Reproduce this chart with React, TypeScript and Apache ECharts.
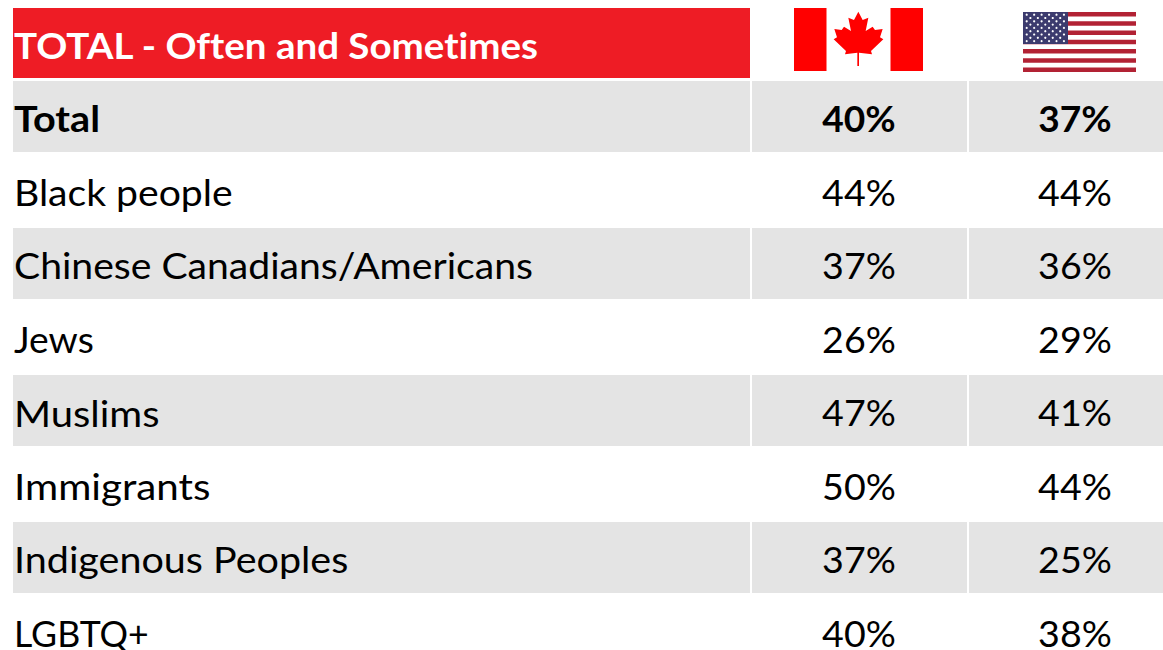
import React, { useEffect, useRef } from "react";
import * as echarts from "echarts";

const title = "TOTAL - Often and Sometimes";
const categories = ["Total", "Black people", "Chinese Canadians/Americans", "Jews", "Muslims", "Immigrants", "Indigenous Peoples", "LGBTQ+"];
const canada = [40, 44, 37, 26, 47, 50, 37, 40];
const usa = [37, 44, 36, 29, 41, 44, 25, 38];

const FONT = "Lato";
const RED = "#EE1C25";
const GREY = "#E4E4E4";
const labelStretch = [1.1, 1.087, 1.087, 1.035, 1.11, 1.12, 1.097, 0.99];
const leaf = [[100,20],[113,45],[130,38],[122,78],[143,65],[150,75],[173,72],[165,97],[175,103],[138,138],[141,148],[102,143],[102,183],[97,183],[97,143],[60,148],[63,138],[26,103],[36,97],[28,72],[50,75],[57,65],[78,78],[70,38],[87,45]];

function usFlag() {
  const x = 1023, y = 12, w = 113, h = 60;
  const els: any[] = [{ type: "rect", shape: { x, y, width: w, height: h }, style: { fill: "#fff" } }];
  const sh = h / 13;
  for (let i = 0; i < 13; i += 2) {
    els.push({ type: "rect", shape: { x, y: y + i * sh, width: w, height: sh }, style: { fill: "#B22234" } });
  }
  els.push({ type: "rect", shape: { x, y, width: 45, height: 32 }, style: { fill: "#3C3B6E" } });
  for (let r = 0; r < 9; r++) {
    const n = r % 2 === 0 ? 6 : 5;
    for (let c = 0; c < n; c++) {
      els.push({ type: "circle", shape: { cx: x + 3.7 + (r % 2 === 0 ? 0 : 3.7) + c * 7.45, cy: y + 2.7 + r * 3.3, r: 1.1 }, style: { fill: "#fff" } });
    }
  }
  return els;
}

function caFlag() {
  return [
    { type: "rect", shape: { x: 794, y: 8, width: 32.5, height: 63 }, style: { fill: "#FF0000" } },
    { type: "rect", shape: { x: 890.5, y: 8, width: 32.5, height: 63 }, style: { fill: "#FF0000" } },
    { type: "polygon", shape: { points: leaf.map(([a, b]) => [a / 3 + 825, b / 3 + 5]) }, style: { fill: "#FF0000" } },
  ];
}

export default function App() {
  const ref = useRef<HTMLDivElement>(null);
  useEffect(() => {
    document.body.style.margin = "0";
    const chart = echarts.init(ref.current!, null, { renderer: "svg" });
    const cols = [[13, 750], [752, 967], [969, 1163]];
    chart.setOption({
      animation: false,
      backgroundColor: "#fff",
      grid: { left: 0, right: 0, top: 79.75, height: 588, outerBoundsMode: "none" },
      xAxis: { type: "value", min: 0, max: 1163, show: false },
      yAxis: { type: "category", data: categories, inverse: true, show: false },
      graphic: [
        { type: "rect", shape: { x: 13, y: 8, width: 737, height: 70 }, style: { fill: RED } },
        { type: "text", x: 14, y: 45, scaleX: 1.07, style: { text: title, fill: "#fff", font: `bold 36px ${FONT}`, textVerticalAlign: "middle" } },
        ...caFlag(),
        ...usFlag(),
      ],
      series: [
        {
          type: "custom",
          coordinateSystem: "cartesian2d",
          clip: false,
          silent: true,
          encode: { x: 1, y: 0 },
          data: categories.map((_, i) => [i, 0, canada[i], usa[i]]),
          renderItem: (_p: any, api: any) => {
            const i = api.value(0);
            const cy = api.coord([0, i])[1];
            const bold = i === 0;
            const children: any[] = [];
            if (i % 2 === 0) {
              cols.forEach(([a, b]) => {
                const x0 = api.coord([a, i])[0];
                const x1 = api.coord([b, i])[0];
                children.push({ type: "rect", shape: { x: x0, y: cy - 35.5, width: x1 - x0, height: 71 }, style: { fill: GREY } });
              });
            }
            const font = `${bold ? "bold " : ""}36px ${FONT}`;
            const ty = cy + 2;
            const pctScale = bold ? 1.03 : 1.045;
            const base = { fill: "#000", font, lineHeight: 28, textVerticalAlign: "middle" };
            children.push({ type: "text", x: 14, y: ty, scaleX: labelStretch[i], style: { ...base, text: categories[i] } });
            children.push({ type: "text", x: 859, y: ty, scaleX: pctScale, style: { ...base, text: `${api.value(2)}%`, textAlign: "center" } });
            children.push({ type: "text", x: 1075, y: ty, scaleX: pctScale, style: { ...base, text: `${api.value(3)}%`, textAlign: "center" } });
            return { type: "group", children };
          },
        },
      ],
    });
    return () => chart.dispose();
  }, []);
  return (
    <>
      <style>{"svg text { font-variant-ligatures: none !important; }"}</style>
      <div ref={ref} style={{ width: 1163, height: 650 }} />
    </>
  );
}
